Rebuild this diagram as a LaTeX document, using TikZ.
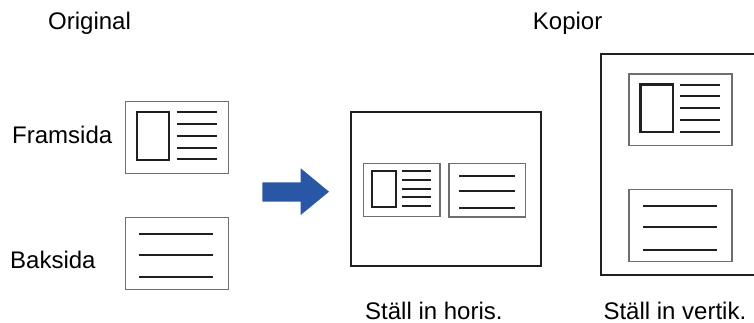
\documentclass[tikz,border=0pt]{standalone}
\usepackage{fontspec}
\setmainfont{Liberation Sans}
\usepackage{xcolor}
\usepackage{tikz}
\definecolor{arrowblue}{HTML}{2A56A6}
\definecolor{inkdark}{HTML}{231F20}
\definecolor{cardgray}{HTML}{6D6E71}
\tikzset{
  lbl/.style={inner sep=0pt, anchor=base west, text depth=0pt, font=\fontsize{24}{28}\selectfont},
  card/.style={draw=cardgray, line width=1.3pt, fill=white},
  photo/.style={draw=inkdark, line width=2.2pt},
  textline/.style={draw=inkdark, line width=2pt},
  sheet/.style={draw=inkdark, line width=2.2pt, fill=white}
}
% card with photo and five lines
\newcommand{\frontcard}[3]{%
  \begin{scope}[shift={(#1,#2)}, scale=#3]
    \draw[card] (0,0) rectangle (103,71.6);
    \draw[photo] (11.4,10.6) rectangle (44,58.3);
    \foreach \ly in {10.6,22.3,34,45.9,57.6}
      \draw[textline] (51.4,\ly) -- (91.4,\ly);
  \end{scope}}
% card with three lines
\newcommand{\backcard}[3]{%
  \begin{scope}[shift={(#1,#2)}, scale=#3]
    \draw[card] (0,0) rectangle (103,72);
    \foreach \ly in {16.7,37.7,60}
      \draw[textline] (14,\ly) -- (88,\ly);
  \end{scope}}
\begin{document}
\begin{tikzpicture}[x=1pt, y=-1pt]
\useasboundingbox (0,0) rectangle (754,323);
% headings
\node[lbl] (orig) at (48,30) {Original};
\node[lbl] (kopior) at (532.7,30) {Kopior};
% originals
\node[lbl] (fram) at (12,143.3) {Framsida};
\node[lbl] (bak) at (10,268.3) {Baksida};
\frontcard{125.3}{101.7}{1}
\backcard{125.3}{217.3}{1}
% arrow
\fill[arrowblue] (262.3,182.3) -- (300.7,182.3) -- (300.7,168.3) -- (329,191.7)
  -- (300.7,215) -- (300.7,201.7) -- (262.3,201.7) -- cycle;
% horizontal copy
\draw[sheet] (350.7,112.3) rectangle (541,266);
\frontcard{363.3}{163.3}{0.745}
\backcard{449}{163.3}{0.745}
\node[lbl] (horis) at (365,319) {Ställ in horis.};
% vertical copy
\draw[sheet] (600.7,54.3) rectangle (756,275);
\frontcard{629}{74}{1}
\backcard{629}{189.7}{1}
\node[lbl] (vertik) at (603.3,319) {Ställ in vertik.};
\end{tikzpicture}
\end{document}
